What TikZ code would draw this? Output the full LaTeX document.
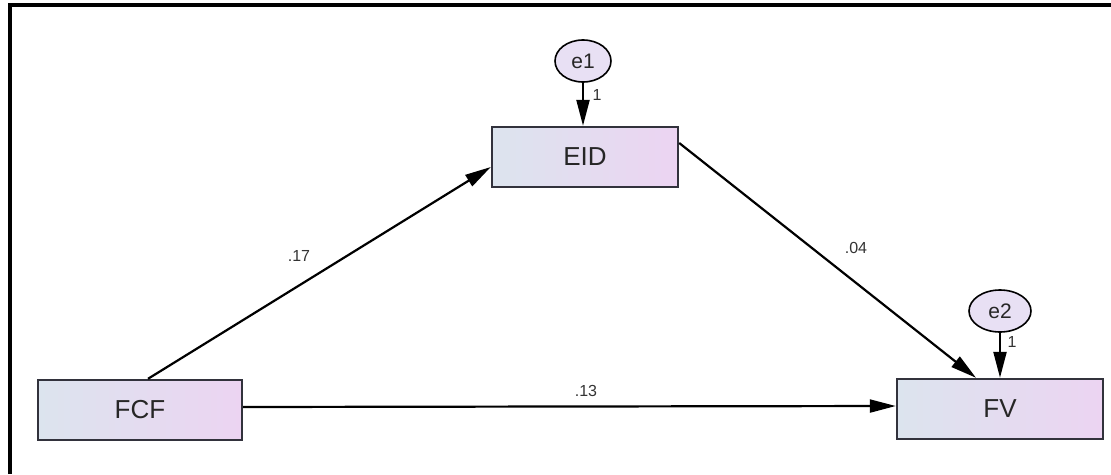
\documentclass[tikz,border=0pt]{standalone}
\usepackage{fontspec}
\setmainfont{Liberation Sans}
\usetikzlibrary{arrows.meta,shapes.geometric}
\definecolor{boxl}{RGB}{220,228,238}
\definecolor{boxr}{RGB}{236,212,242}
\definecolor{errfill}{RGB}{232,224,244}
\definecolor{edge}{RGB}{50,50,60}
\begin{document}
\begin{tikzpicture}[x=1pt,y=-1pt,
 var/.style={draw=edge, line width=2.4pt, left color=boxl, right color=boxr, minimum width=186pt, minimum height=60pt, font=\fontsize{26}{28}\selectfont, text=black!85, inner sep=0pt},
 err/.style={ellipse, draw=black, line width=1.6pt, fill=errfill, minimum width=56pt, minimum height=42pt, font=\fontsize{21}{23}\selectfont, text=black!85, inner sep=0pt},
 arr/.style={line width=2.2pt, -{Triangle[length=26pt,width=13pt]}},
 coef/.style={font=\fontsize{16}{18}\selectfont, text=black!80},
 one/.style={font=\fontsize{16}{18}\selectfont, text=black!80}
]
\useasboundingbox (0,0) rectangle (1111,474);
\draw[line width=4.5pt] (10,474) -- (10,5) -- (1111,5);
\node[var] (EID) at (585,157) {EID};
\node[var, minimum width=204pt] (FCF) at (140,410) {FCF};
\node[var, minimum width=206pt] (FV) at (1000,409) {FV};
\node[err] (e1) at (583,61) {e1};
\node[err, minimum width=62pt] (e2) at (1000,311) {e2};
\draw[arr] ([xshift=8pt]FCF.north) -- ([yshift=-10pt]EID.west);
\draw[arr] ([yshift=14pt]EID.east) -- ([xshift=-24pt]FV.north);
\draw[arr] ([yshift=3pt]FCF.east) -- ([yshift=3pt]FV.west);
\draw[arr] (e1.south) -- (e1.south |- EID.north);
\draw[arr] (e2.south) -- (e2.south |- FV.north);
\node[coef] (l17) at (299,256) {.17};
\node[coef] (l04) at (856,248) {.04};
\node[coef] (l13) at (586,391) {.13};
\node[one] (o1) at (597,95) {1};
\node[one] (o2) at (1012,342) {1};
\end{tikzpicture}
\end{document}
